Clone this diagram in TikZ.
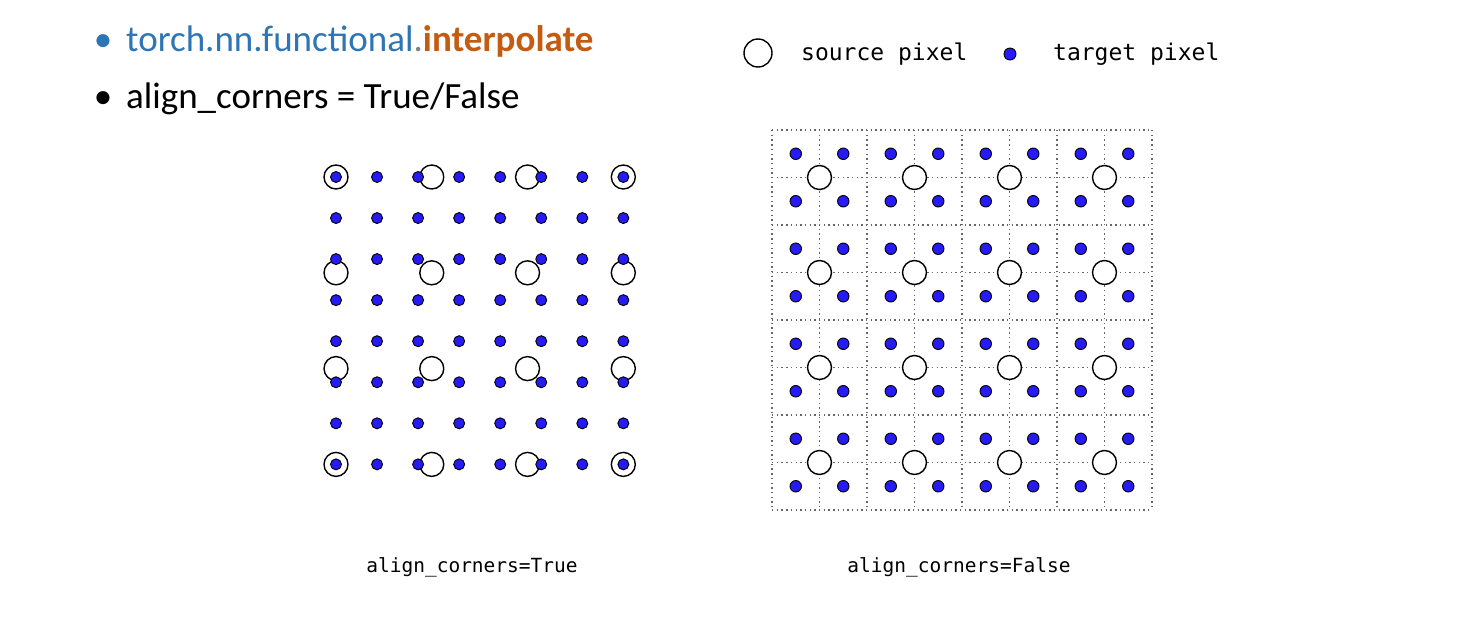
\documentclass[tikz,border=0pt]{standalone}
\usepackage{fontspec}
\setmainfont{Carlito}
\newfontfamily\monofont{DejaVu Sans Mono}
\definecolor{torchblue}{RGB}{46,117,182}
\definecolor{torchorange}{RGB}{197,90,17}
\definecolor{pixblue}{RGB}{38,26,245}

\begin{document}
\begin{tikzpicture}[x=1pt,y=-1pt,
        src/.style={circle,draw=black,fill=white,line width=1.4pt,minimum size=24pt,inner sep=0pt},
        tgt/.style={circle,draw=black,fill=pixblue,line width=0.9pt,minimum size=11pt,inner sep=0pt},
        gridline/.style={black!60,line width=1.5pt,dash pattern=on 1.4pt off 3.3pt},
        title/.style={anchor=base west,font=\fontsize{37}{44}\selectfont,inner sep=0pt},
        legend/.style={anchor=base west,font=\monofont\fontsize{23}{28}\selectfont,inner sep=0pt},
        caption/.style={anchor=base,font=\monofont\fontsize{19.5}{24}\selectfont,inner sep=0pt}]
            \useasboundingbox (0,0) rectangle (1465,616);
            \node[title,anchor=base,text=torchblue] (bullet1) at (103,51) {•};
            \node[title] (api) at (126,51)
                {\textcolor{torchblue}{torch.nn.functional}\textcolor{gray}{.}\textcolor{torchorange}{\bfseries interpolate}};
            \node[title,anchor=base] (bullet2) at (103,108) {•};
            \node[title] (opt) at (126,108) {align\_corners = True/False};
            \node[src,minimum size=28pt] (srcmark) at (758,53) {};
            \node[legend] (srclab) at (801,60) {source pixel};
            \node[tgt,minimum size=12pt] (tgtmark) at (1010,54) {};
            \node[legend] (tgtlab) at (1053,60) {target pixel};
            \foreach \i in {0,...,3}
                \foreach \j in {0,...,3}
                    \node[src] (ls-\i-\j) at (336+95.77*\i,177+95.8*\j) {};
            \foreach \i in {0,...,7}
                \foreach \j in {0,...,7}
                    \node[tgt] (lt-\i-\j) at (336+41.05*\i,177+41.05*\j) {};
            \foreach \k in {0,...,8} {
                \draw[gridline] (772+47.5*\k,130) -- (772+47.5*\k,510);
                \draw[gridline] (772,130+47.5*\k) -- (1152,130+47.5*\k);
            }
            \foreach \i in {0,...,3}
                \foreach \j in {0,...,3}
                    \node[src] (rs-\i-\j) at (819.5+95*\i,177.5+95*\j) {};
            \foreach \i in {0,...,7}
                \foreach \j in {0,...,7}
                    \node[tgt,minimum size=11.5pt] (rt-\i-\j) at (795.75+47.5*\i,153.75+47.5*\j) {};
            \node[caption] (captrue) at (472,572) {align\_corners=True};
            \node[caption] (capfalse) at (959,572) {align\_corners=False};
        \end{tikzpicture}
\end{document}
